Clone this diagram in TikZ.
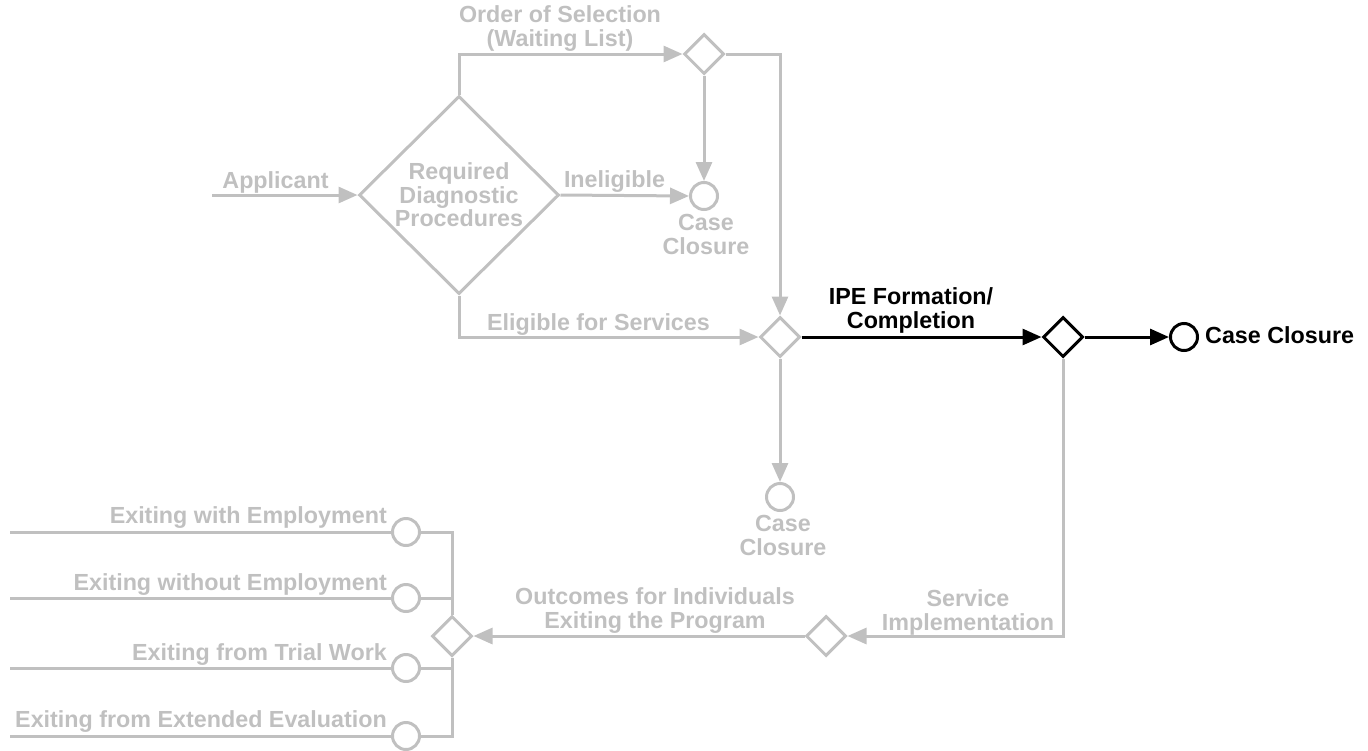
\documentclass[tikz,border=0pt]{standalone}
\usepackage{fontspec}
\setmainfont{Liberation Sans}
\usetikzlibrary{shapes.geometric,arrows.meta}
\definecolor{flowgrey}{RGB}{192,192,192}

\begin{document}
\begin{tikzpicture}[x=1pt,y=-1pt,
  every node/.style={font=\fontsize{23.3}{23.5}\selectfont\bfseries},
  lbl/.style={inner sep=0pt, align=center, anchor=base},
  dec/.style={diamond, draw, line width=3pt, inner sep=0pt,
              minimum width=40pt, minimum height=40pt},
  endc/.style={circle, draw, line width=3pt, inner sep=0pt, minimum size=27pt},
  flow/.style={line width=3pt},
  arr/.style={flow, -{Triangle[length=19pt,width=16pt]}},
  dim/.style={draw=flowgrey, text=flowgrey},
  dimtext/.style={text=flowgrey},
]
\useasboundingbox (0,0) rectangle (1368,750);

% decision points and end states
\node[dec, dim, minimum width=200pt, minimum height=198pt, align=center] (rdp) at (459,195)
  {Required\\Diagnostic\\Procedures};
\node[dec, dim] (sel)  at (704,54) {};
\node[endc, dim] (cc1) at (704,196) {};
\node[dec, dim] (elig) at (780,337) {};
\node[dec, black] (ipe) at (1063,337) {};
\node[endc, black] (cc2) at (1184,337) {};
\node[endc, dim] (cc3) at (780,497) {};
\node[dec, dim] (svc)  at (826,636) {};
\node[dec, dim] (ext)  at (452,636) {};
\node[endc, dim] (o1) at (406,532) {};
\node[endc, dim] (o2) at (406,598) {};
\node[endc, dim] (o3) at (406,668) {};
\node[endc, dim] (o4) at (406,736) {};

% loose ends
\coordinate (appin) at (212,195);
\coordinate (e1) at (10,532);
\coordinate (e2) at (10,598);
\coordinate (e3) at (10,668);
\coordinate (e4) at (10,736);

% labels (multi-line labels are placed by the baseline of their last line)
\node[lbl, dimtext] (lapp) at (275.5,188) {Applicant};
\node[lbl, dimtext] (lin) at (614.5,187) {Ineligible};
\node[lbl, dimtext] (lsel) at (560,46) {Order of Selection\\(Waiting List)};
\node[lbl, dimtext] (lcc1) at (706,254) {Case\\Closure};
\node[lbl, dimtext] (lelig) at (598.5,330) {Eligible for Services};
\node[lbl] (lipe) at (911,328) {IPE Formation/\\Completion};
\node[lbl, anchor=base west] (lcc2) at (1205,343) {Case Closure};
\node[lbl, dimtext] (lcc3) at (783,555) {Case\\Closure};
\node[lbl, dimtext] (lout) at (655,628) {Outcomes for Individuals\\Exiting the Program};
\node[lbl, dimtext] (lsvc) at (968,630) {Service\\Implementation};
\node[lbl, dimtext, anchor=base east] (lo1) at (387,523) {Exiting with Employment};
\node[lbl, dimtext, anchor=base east] (lo2) at (387,590) {Exiting without Employment};
\node[lbl, dimtext, anchor=base east] (lo3) at (387,660) {Exiting from Trial Work};
\node[lbl, dimtext, anchor=base east] (lo4) at (387,727) {Exiting from Extended Evaluation};

% grey connectors
\begin{scope}[flowgrey]
\draw[arr] (appin) -- (rdp.west);
\draw[arr] (rdp.north) |- (sel.west);
\draw[arr] (sel.south) -- (cc1.north);
\draw[arr] (rdp.east) -- (cc1.west);
\draw[arr] (sel.east) -| (elig.north);
\draw[arr] (rdp.south) |- (elig.west);
\draw[arr] (elig.south) -- (cc3.north);
\draw[arr] (ipe.south) |- (svc.east);
\draw[arr] (svc.west) -- (ext.east);
\draw[flow] (ext.north) |- (o1.east);
\draw[flow] (ext.north) |- (o2.east);
\draw[flow] (ext.south) |- (o3.east);
\draw[flow] (ext.south) |- (o4.east);
\draw[flow] (o1.west) -- (e1);
\draw[flow] (o2.west) -- (e2);
\draw[flow] (o3.west) -- (e3);
\draw[flow] (o4.west) -- (e4);
\end{scope}

% black connectors
\draw[arr] (elig.east) -- (ipe.west);
\draw[arr] (ipe.east) -- (cc2.west);
\end{tikzpicture}
\end{document}
